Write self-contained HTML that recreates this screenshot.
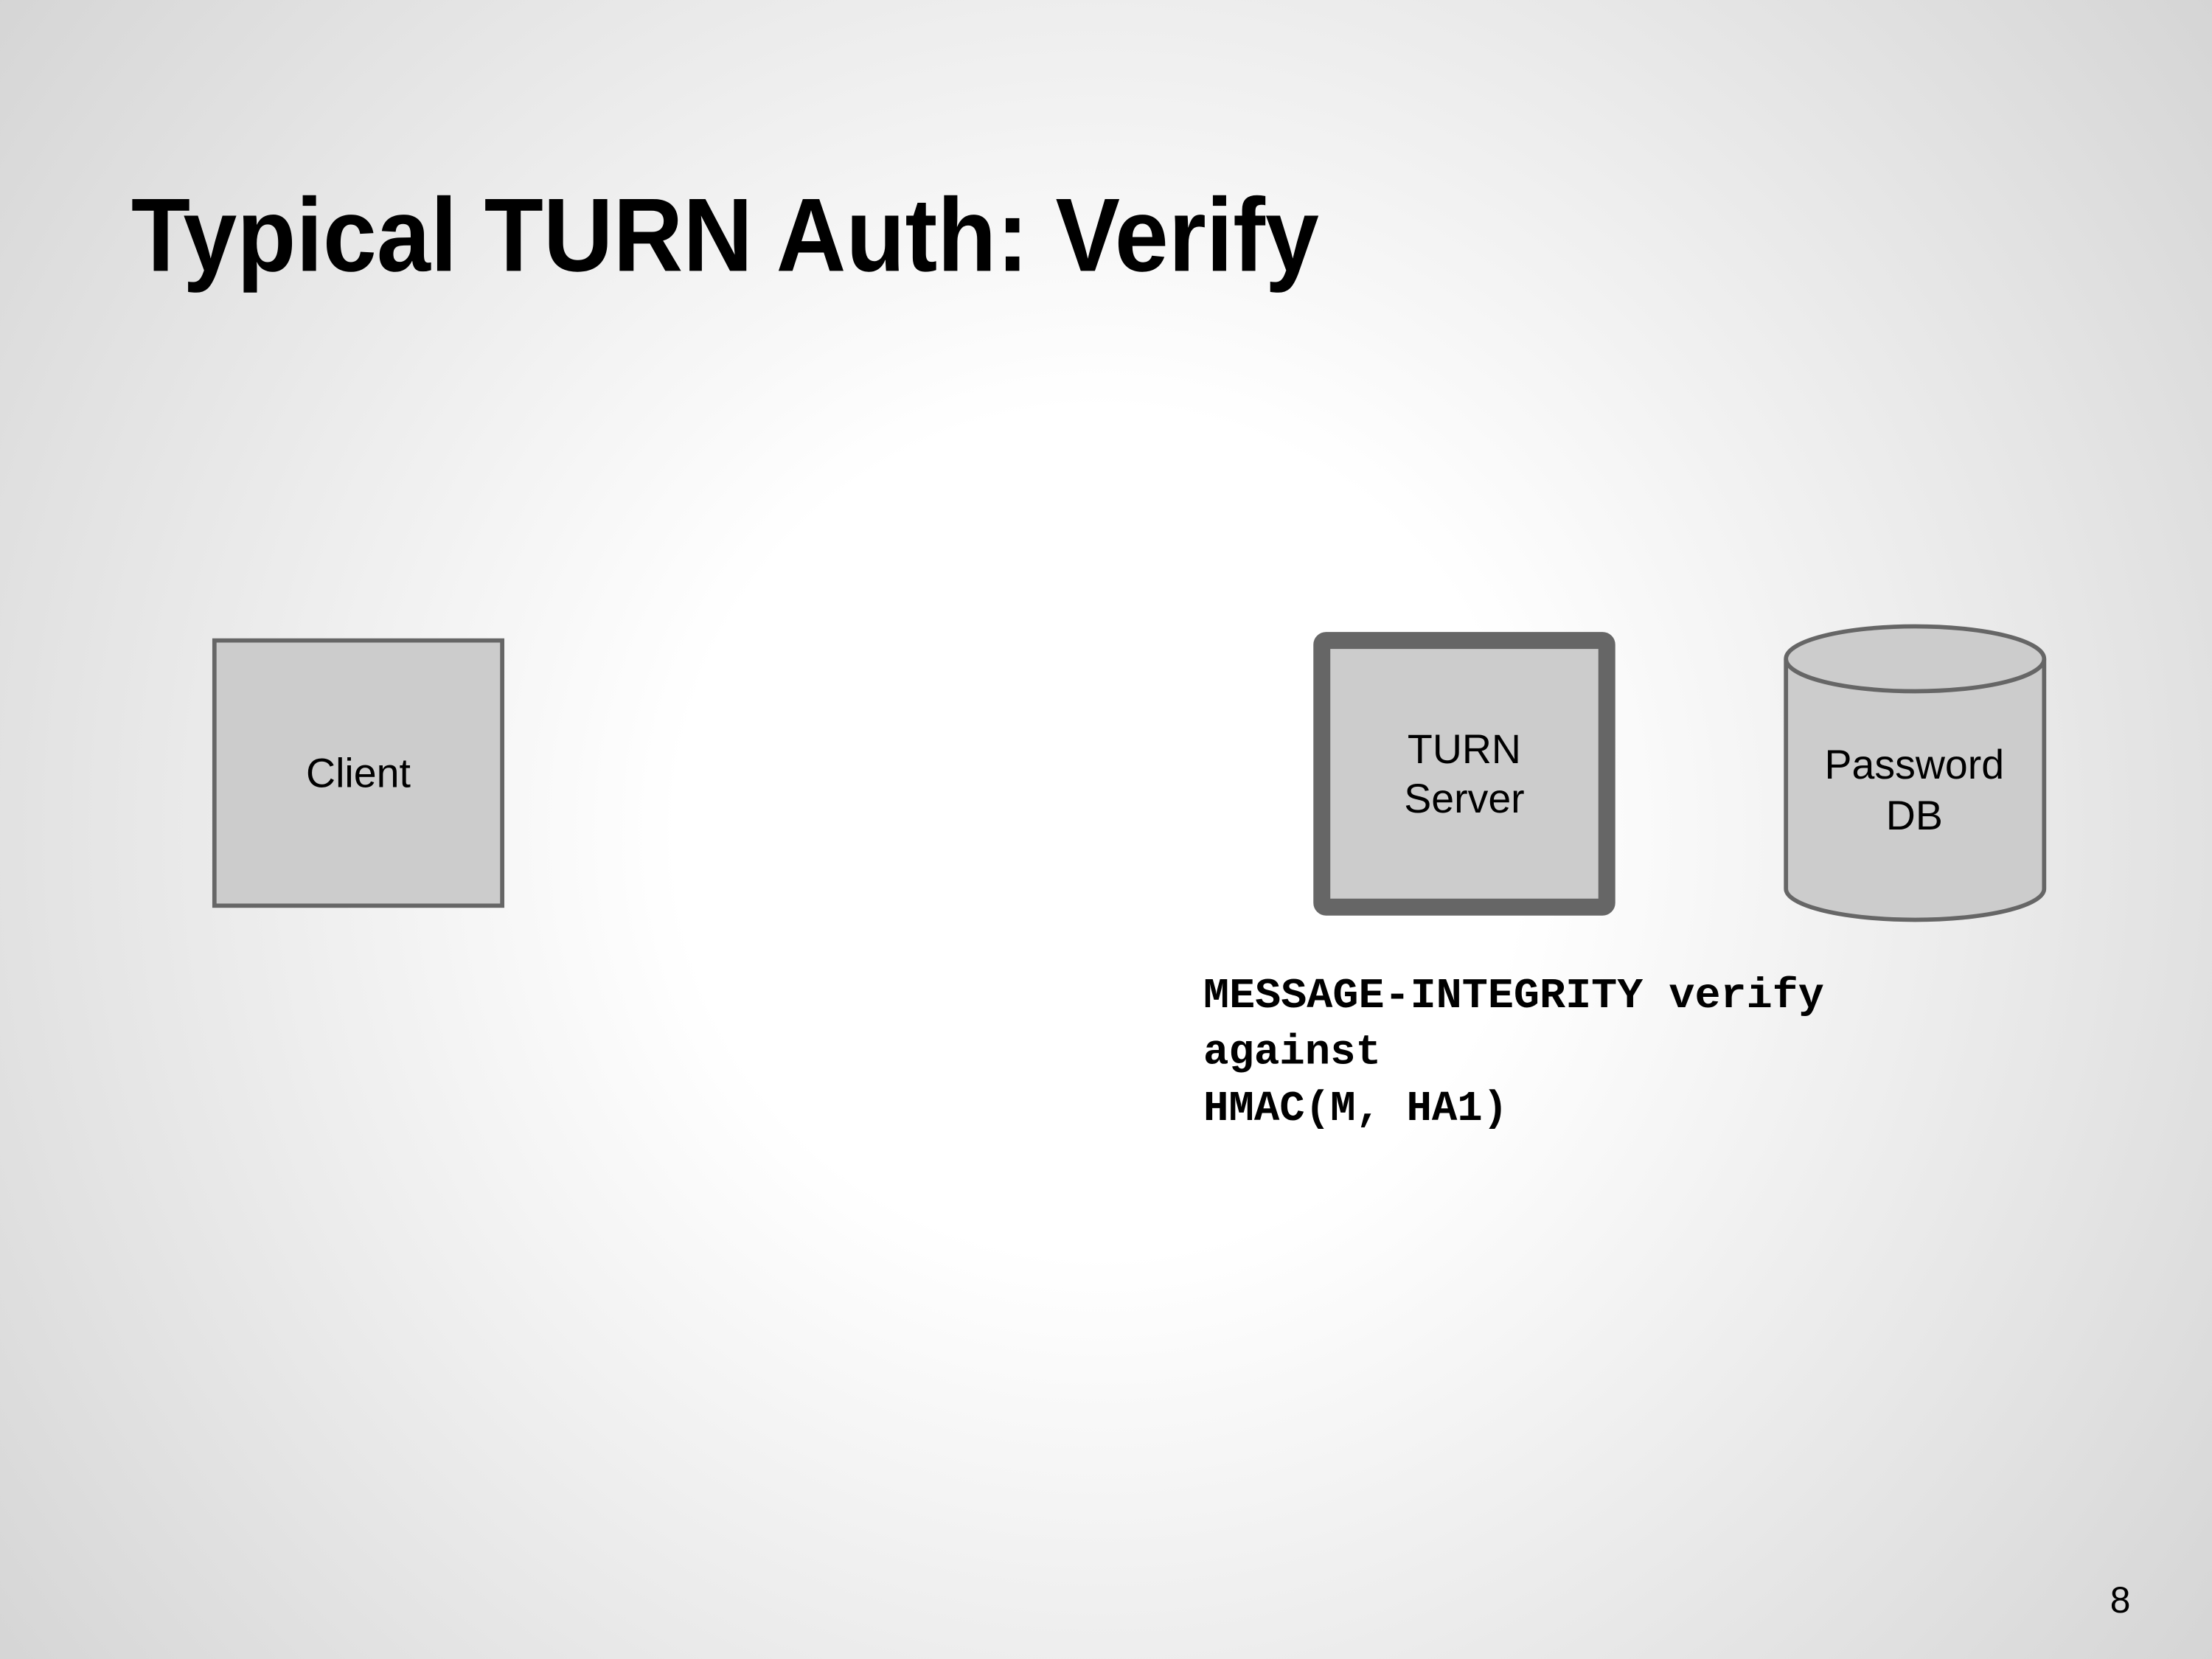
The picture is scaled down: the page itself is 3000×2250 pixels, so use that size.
<!DOCTYPE html>
<html><head><meta charset="utf-8"><style>
html,body{margin:0;padding:0;width:3000px;height:2250px;overflow:hidden;}
svg{display:block;}
</style></head><body>
<svg width="3000" height="2250" viewBox="0 0 1568 1176" xmlns="http://www.w3.org/2000/svg">
<defs>
<radialGradient id="bg" cx="780" cy="590" r="1000" gradientUnits="userSpaceOnUse">
<stop offset="0" stop-color="#ffffff"/>
<stop offset="0.3" stop-color="#ffffff"/>
<stop offset="1" stop-color="#d4d4d4"/>
</radialGradient>
</defs>
<rect width="1568" height="1176" fill="url(#bg)"/>
<text x="93" y="192" font-family="Liberation Sans, sans-serif" font-weight="bold" font-size="74" textLength="842" lengthAdjust="spacingAndGlyphs" fill="#000">Typical TURN Auth: Verify</text>
<rect x="152" y="454" width="204" height="188" fill="#cccccc" stroke="#666" stroke-width="3"/>
<text x="254" y="558" text-anchor="middle" font-family="Liberation Sans, sans-serif" font-size="29" fill="#000">Client</text>
<rect x="937" y="454" width="202" height="189" rx="3" fill="#cccccc" stroke="#666" stroke-width="12"/>
<text x="1038" y="541" text-anchor="middle" font-family="Liberation Sans, sans-serif" font-size="29" fill="#000">TURN</text>
<text x="1038" y="576" text-anchor="middle" font-family="Liberation Sans, sans-serif" font-size="29" fill="#000">Server</text>
<path d="M1266 467 L1266 630 A91.5 22 0 0 0 1449 630 L1449 467" fill="#cccccc" stroke="#666" stroke-width="3"/>
<ellipse cx="1357.5" cy="467" rx="91.5" ry="23" fill="#cccccc" stroke="#666" stroke-width="3"/>
<text x="1357" y="552" text-anchor="middle" font-family="Liberation Sans, sans-serif" font-size="29" fill="#000">Password</text>
<text x="1357" y="588" text-anchor="middle" font-family="Liberation Sans, sans-serif" font-size="29" fill="#000">DB</text>
<g font-family="Liberation Mono, monospace" font-weight="bold" font-size="30" fill="#000">
<text x="853" y="714" textLength="440" lengthAdjust="spacingAndGlyphs">MESSAGE-INTEGRITY verify</text>
<text x="853" y="754">against</text>
<text x="853" y="794">HMAC(M, HA1)</text>
</g>
<text x="1503" y="1143" text-anchor="middle" font-family="Liberation Sans, sans-serif" font-size="26" fill="#000">8</text>
</svg>
</body></html>
